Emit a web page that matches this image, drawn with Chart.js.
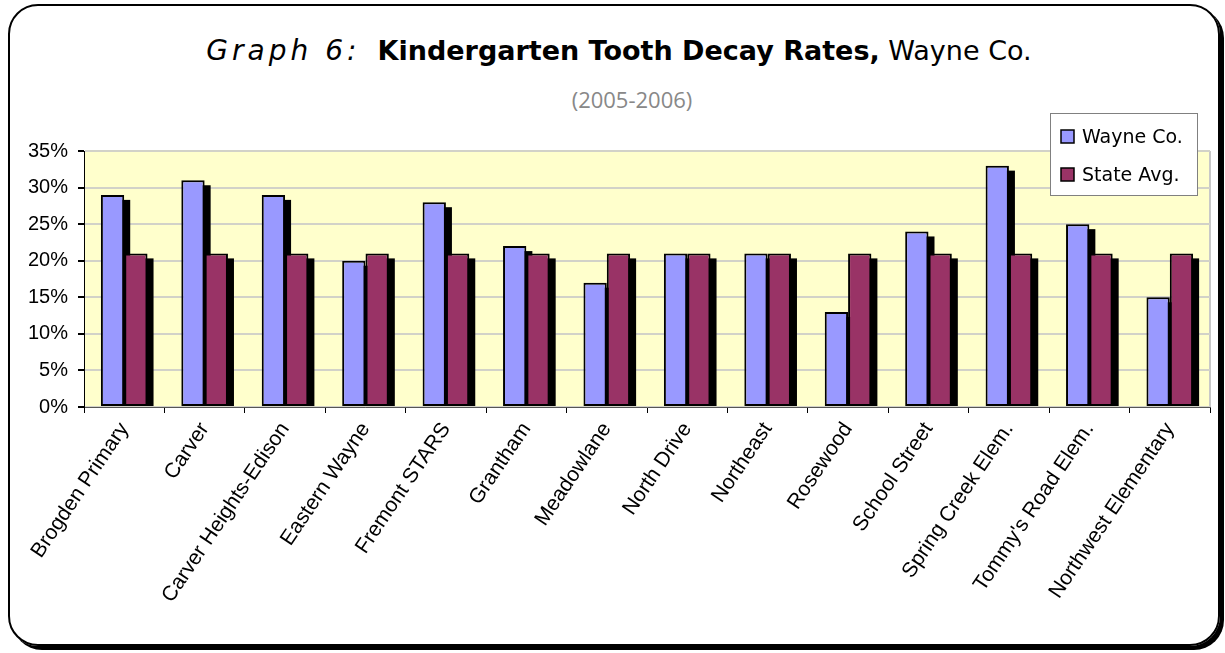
<!DOCTYPE html>
<html>
<head>
<meta charset="utf-8">
<script src="https://cdn.jsdelivr.net/npm/chart.js@4"></script>
<style>
  html, body { margin:0; padding:0; background:#fff; }
  #frame {
    position:absolute; left:8px; top:4px; width:1208px; height:638px;
    border:2px solid #000; border-radius:30px; box-shadow:4px 4px 0 #000;
  }
  #title {
    position:absolute; left:0; top:34px; width:1238px; text-align:center;
    font-family:"DejaVu Sans", sans-serif; font-size:27px; color:#000; white-space:nowrap;
  }
  #title .hand { font-weight:200; font-style:italic; font-size:28px; letter-spacing:4px; }
  #title .bold { font-weight:bold; }
  #subtitle {
    position:absolute; left:0; top:84px; width:1264px; text-align:center;
    font-family:"Open Sans", sans-serif; font-size:22px; color:#888;
  }
  canvas { position:absolute; left:0; top:0; }
</style>
</head>
<body>
<div id="frame"></div>
<div id="title"><span class="hand">Graph 6:</span>&nbsp; <span class="bold">Kindergarten Tooth Decay Rates,</span> Wayne Co.</div>
<div id="subtitle">(2005-2006)</div>
<div style="position:absolute;left:0;top:0;width:1225px;height:653px;">
  <canvas id="chart" width="1225" height="653"></canvas>
</div>
<script>
// schools and decay rates (%)
const schools = ['Brogden Primary', 'Carver', 'Carver Heights-Edison', 'Eastern Wayne', 'Fremont STARS',
  'Grantham', 'Meadowlane', 'North Drive', 'Northeast', 'Rosewood', 'School Street',
  'Spring Creek Elem.', "Tommy's Road Elem.", 'Northwest Elementary'];
const wayneCo  = [29, 31, 29, 20, 28, 22, 17, 21, 21, 13, 24, 33, 25, 15];
const stateAvg = [21, 21, 21, 21, 21, 21, 21, 21, 21, 21, 21, 21, 21, 21];
const yTicks = [0, 5, 10, 15, 20, 25, 30, 35];

const PLOT = { left:84, right:1210, top:151, bottom:407 };

// yellow plot background + right edge
const plotBg = {
  id:'plotBg',
  beforeDraw(chart) {
    const { ctx, chartArea:a } = chart;
    ctx.save();
    ctx.fillStyle = '#FFFFCC';
    ctx.fillRect(a.left, a.top, a.right - a.left, a.bottom - a.top);
    ctx.strokeStyle = '#c8c8c8';
    ctx.lineWidth = 2;
    ctx.beginPath();
    ctx.moveTo(a.right, a.top);
    ctx.lineTo(a.right, a.bottom);
    ctx.stroke();
    ctx.restore();
  }
};

// hard black drop shadow behind every bar
const barShadow = {
  id:'barShadow',
  beforeDatasetsDraw(chart) {
    const { ctx } = chart;
    ctx.save();
    ctx.fillStyle = '#000';
    chart.data.datasets.forEach((ds, i) => {
      chart.getDatasetMeta(i).data.forEach(bar => {
        const x = bar.x - bar.width / 2 + 6;
        const y = bar.y + 5;
        ctx.fillRect(x, y, bar.width, bar.base - y);
      });
    });
    ctx.restore();
  }
};

// legend box sitting over the top right corner
const boxLegend = {
  id:'boxLegend',
  afterDraw(chart) {
    const { ctx } = chart;
    const x = 1050, y = 113, w = 147, h = 82;
    ctx.save();
    ctx.fillStyle = '#fff';
    ctx.fillRect(x, y, w, h);
    ctx.strokeStyle = '#808080';
    ctx.lineWidth = 1;
    ctx.strokeRect(x + 0.5, y + 0.5, w, h);
    ctx.font = '19px "DejaVu Sans"';
    ctx.textBaseline = 'middle';
    chart.data.datasets.forEach((ds, i) => {
      const cy = y + 24 + i * 38;
      ctx.fillStyle = ds.backgroundColor;
      ctx.fillRect(x + 11, cy - 7, 13, 13);
      ctx.strokeStyle = '#000';
      ctx.lineWidth = 1.5;
      ctx.strokeRect(x + 11, cy - 7, 13, 13);
      ctx.fillStyle = '#000';
      ctx.fillText(ds.label, x + 32, cy + 1);
    });
    ctx.restore();
  }
};

new Chart(document.getElementById('chart'), {
  type:'bar',
  data:{
    labels:schools,
    datasets:[
      { label:'Wayne Co.', data:wayneCo, backgroundColor:'#9999FF', borderColor:'#000', borderWidth:2, borderSkipped:false },
      { label:'State Avg.', data:stateAvg, backgroundColor:'#993366', borderColor:'#000', borderWidth:2, borderSkipped:false }
    ]
  },
  options:{
    responsive:false,
    animation:false,
    layout:{ padding:{ top:PLOT.top, right:1225 - PLOT.right, left:0, bottom:0 } },
    plugins:{ legend:{ display:false }, tooltip:{ enabled:false } },
    datasets:{ bar:{ barPercentage:1, categoryPercentage:0.58 } },
    scales:{
      x:{
        afterFit(s) { s.height = 653 - PLOT.bottom; },
        grid:{ offset:true, drawOnChartArea:false, tickLength:6, tickColor:'#000' },
        border:{ color:'#555', width:1 },
        ticks:{ minRotation:56, maxRotation:56, autoSkip:false, padding:5,
                color:'#000', font:{ family:'"Liberation Sans", Arial', size:21 } }
      },
      y:{
        min:0, max:35,
        afterFit(s) { s.width = PLOT.left; },
        afterBuildTicks(s) { s.ticks = yTicks.map(v => ({ value:v })); },
        grid:{ color:'#d2d2c8', lineWidth:2, tickLength:6, tickColor:'#000' },
        border:{ color:'#000', width:1 },
        ticks:{ padding:10, color:'#000', callback:v => v + '%',
                font:{ family:'"Liberation Sans", Arial', size:20 } }
      }
    }
  },
  plugins:[plotBg, barShadow, boxLegend]
});
</script>
</body>
</html>
